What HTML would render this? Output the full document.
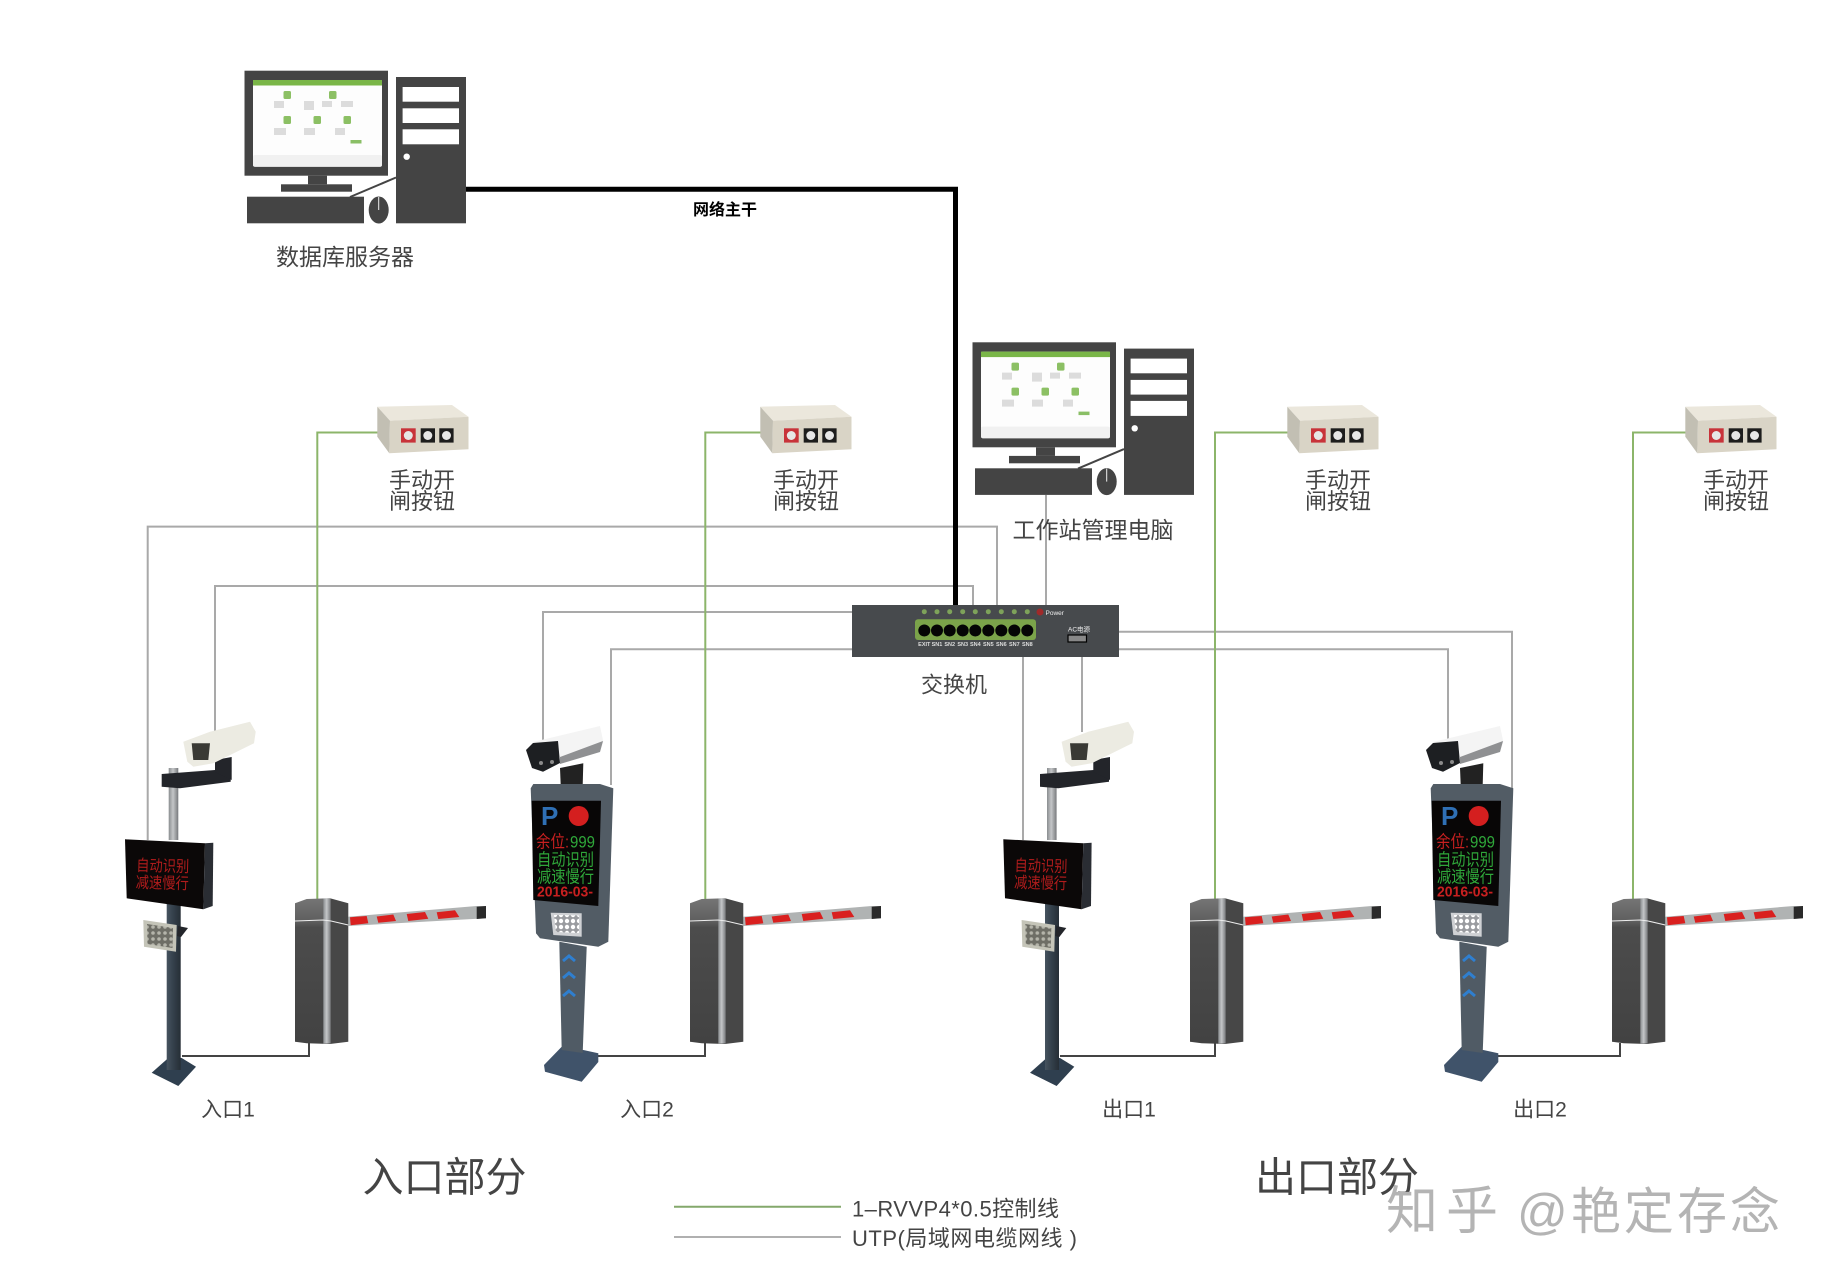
<!DOCTYPE html>
<html lang="zh">
<head>
<meta charset="utf-8">
<title>停车场系统拓扑图</title>
<style>
html,body{margin:0;padding:0;background:#fff}
svg{display:block}
text{font-family:"Liberation Sans","Noto Sans CJK SC",sans-serif;fill:#444}
.cn{font-size:23px;text-anchor:middle;dominant-baseline:central}
.led{font-size:17px;dominant-baseline:central}
.ledA{font-size:16px;dominant-baseline:central;fill:#b01c1c}
</style>
</head>
<body>
<svg xmlns="http://www.w3.org/2000/svg" width="1826" height="1282" viewBox="0 0 1826 1282">
<defs>
<linearGradient id="silver" x1="0" x2="1" y1="0" y2="0"><stop offset="0" stop-color="#8a8d90"/><stop offset=".45" stop-color="#c4c6c8"/><stop offset="1" stop-color="#77797c"/></linearGradient>
<linearGradient id="post" x1="0" x2="1" y1="0" y2="0"><stop offset="0" stop-color="#46535f"/><stop offset=".5" stop-color="#333f4a"/><stop offset="1" stop-color="#262e36"/></linearGradient>
<linearGradient id="cab" x1="0" x2="0" y1="0" y2="1"><stop offset="0" stop-color="#757575"/><stop offset=".16" stop-color="#5e5e5e"/><stop offset=".2" stop-color="#4c4c4c"/><stop offset="1" stop-color="#424242"/></linearGradient>
<pattern id="dotsA" width="6" height="6" patternUnits="userSpaceOnUse"><rect width="6" height="6" fill="#6e6e66"/><circle cx="3" cy="3" r="1.8" fill="#b4b4aa"/></pattern>
<pattern id="dotsB" width="6" height="6" patternUnits="userSpaceOnUse"><rect width="6" height="6" fill="#9a9ca0"/><circle cx="3" cy="3" r="2.2" fill="#fff"/></pattern>

<g id="pc">
  <rect x="244.5" y="70.7" width="143.5" height="105" fill="#444"/>
  <rect x="253" y="80" width="129" height="86.7" rx="2" fill="#fdfdfd"/>
  <rect x="253" y="155" width="129" height="11.7" rx="2" fill="#f1f1f1"/>
  <rect x="253" y="80" width="129" height="5.5" fill="#7ab648"/>
  <g fill="#8cc064">
    <rect x="283.5" y="91" width="7.5" height="8" rx="1.5"/>
    <rect x="329" y="91" width="7.5" height="8" rx="1.5"/>
    <rect x="283.5" y="116" width="7.5" height="8" rx="1.5"/>
    <rect x="313.5" y="116" width="7.5" height="8" rx="1.5"/>
    <rect x="343.5" y="116" width="7.5" height="8" rx="1.5"/>
    <rect x="350.5" y="140" width="11" height="3.5" fill="#8abf66"/>
  </g>
  <g fill="#dcdcdc">
    <rect x="274" y="101" width="10" height="7"/><rect x="304" y="101" width="10" height="9"/>
    <rect x="322" y="101" width="10" height="6"/><rect x="341" y="101" width="12" height="6"/>
    <rect x="274" y="128" width="12" height="7"/><rect x="304" y="128" width="11" height="7"/>
    <rect x="335" y="128" width="10" height="7"/>
  </g>
  <rect x="308" y="175.7" width="19" height="8.6" fill="#444"/>
  <rect x="281" y="184.3" width="71" height="7.4" fill="#444"/>
  <rect x="247" y="196.7" width="117" height="26.6" fill="#444"/>
  <path d="M396 177.5 L350 197" stroke="#444" stroke-width="2" fill="none"/>
  <ellipse cx="378.7" cy="210" rx="10" ry="13.5" fill="#444"/>
  <path d="M378.7 197v13" stroke="#eee" stroke-width="1"/>
  <rect x="396" y="77" width="70" height="146.3" fill="#444"/>
  <rect x="402.6" y="87" width="56.4" height="14.7" fill="#fff"/>
  <rect x="402.6" y="108.3" width="56.4" height="14.7" fill="#fff"/>
  <rect x="402.6" y="129.3" width="56.4" height="15" fill="#fff"/>
  <circle cx="406.7" cy="156.7" r="3.2" fill="#fff"/>
</g>

<g id="btn">
  <polygon points="377.3,406.7 452,405 468.5,416.7 390,420.7" fill="#ebe7dc"/>
  <polygon points="377.3,406.7 390,420.7 389.3,453.3 377.3,436.7" fill="#c2bfb3"/>
  <polygon points="390,420.7 468.5,416.7 468.5,449.3 389.3,453.3" fill="#d9d4c6"/>
  <rect x="401" y="428.3" width="14.7" height="14.3" fill="#c8333a"/>
  <rect x="420.7" y="428.3" width="14.3" height="14.3" fill="#1d1d1d"/>
  <rect x="439.3" y="428.3" width="14.3" height="14.3" fill="#1d1d1d"/>
  <circle cx="408.3" cy="435.5" r="4.5" fill="#e6e6e6"/>
  <circle cx="427.8" cy="435.5" r="4.5" fill="#e6e6e6"/>
  <circle cx="446.5" cy="435.5" r="4.5" fill="#e6e6e6"/>
</g>

<g id="bar">
  <polygon points="348.3,916.7 476.7,906 486,906 486,918.3 348.3,926" fill="#b0b3b3"/>
  <polygon points="350,917.3 366.7,916 368.3,923.3 350.7,925.3" fill="#d9201f"/>
  <polygon points="376.7,916.5 393.3,914.5 396,921 378.3,922.7" fill="#d9201f"/>
  <polygon points="406.7,914 425,912 428.3,918.8 408.3,921" fill="#d9201f"/>
  <polygon points="436.7,912.2 455,910.2 459.3,917 438.3,919" fill="#d9201f"/>
  <polygon points="476.7,906.7 486,906 486,918.3 476.7,919" fill="#2a2a2a"/>
  <polygon points="295,903.3 306.7,899 330,898.3 330,1044 306.7,1043.3 295,1041.7" fill="url(#cab)"/>
  <polygon points="330,898.3 348.3,903.3 348.3,1041.7 330,1044" fill="#474747"/>
  <rect x="323.3" y="898.5" width="7.4" height="145" fill="url(#silver)"/>
  <path d="M295 921 L323 920 L331 921 L348.3 925" stroke="#eee" stroke-width="1" fill="none"/>
</g>

<g id="poleA">
  <polygon points="151.7,1072.7 168.3,1058 181.7,1058 196,1066.7 178.3,1086" fill="#2f3f4f"/>
  <rect x="166.7" y="903" width="14" height="167" fill="url(#post)"/>
  <rect x="168.7" y="768" width="9.6" height="72" fill="url(#silver)"/>
  <polygon points="161.7,774 215,770 230.7,778.3 230.7,781.7 180,788.3 161.7,786.7" fill="#23252a"/>
  <polygon points="215,760 231.7,757 231.7,780 215,772" fill="#23252a"/>
  <polygon points="183.3,741.7 210,731.7 250,721.7 255.7,731.7 254,743.3 213.3,763.3 193.3,766.7 187.3,761.7" fill="#ecebe2"/>
  <polygon points="191.7,743.3 210,743.3 208.3,760 193.3,760" fill="#3a3a35"/>
  <polygon points="125,839.3 205,843.3 203.3,909.3 126.7,898.3" fill="#0b0808"/>
  <polygon points="205,843.3 213.3,842.7 212.7,906 203.3,909.3" fill="#2a2d33"/>
  <polygon points="143.3,920 176.7,925 176,951.7 144,946.7" fill="#c4c4b8"/>
  <polygon points="147,924 173,928 172.5,948 147.5,944" fill="url(#dotsA)"/>
  <polygon points="178,926 188,928 181,937 177,936" fill="#23252a"/>
</g>

<g id="poleB">
  <polygon points="544,1065 561.7,1046.7 583.3,1050 598.3,1053.3 598.3,1062 581.7,1081.7 545,1071.7" fill="#40536a"/>
  <polygon points="559.3,941.7 586.7,946.7 582.7,1053 561.7,1050" fill="#505b65"/>
  <path d="M563 961l6-5 6 5M563 978l6-5 6 5M563 996l6-5 6 5" stroke="#2f7fd0" stroke-width="3" fill="none"/>
  <polygon points="560,768 583.3,763.3 582.7,785 560.7,785" fill="#222"/>
  <polygon points="533,742 600,726 603.3,741.7 600,751.7 560,757" fill="#f4f4f4"/>
  <polygon points="560,757 603,741 600,752 560,764" fill="#8f9092"/>
  <polygon points="526,750 533,743 558,741 560,763 543,771.7 532,768" fill="#1d1f22"/>
  <circle cx="541" cy="763" r="2" fill="#8a8a8a"/><circle cx="552" cy="762" r="2" fill="#8a8a8a"/>
  <polygon points="530.7,788.3 533.3,784 600,784 613.3,788.3 608.3,941.7 598.3,946.7 540,938.3 536,933.3" fill="#525c65"/>
  <polygon points="531.7,800.7 601,800.7 598.3,906 533.3,900" fill="#080606"/>
  <circle cx="578.7" cy="816" r="10" fill="#d41f1f"/>
  <polygon points="550.7,912.7 581.7,913.3 581.7,936.7 553.3,935" fill="#cfd1d4"/>
  <polygon points="554,915 579,915.5 579,933 556,932" fill="url(#dotsB)"/>
</g>
</defs>

<rect width="1826" height="1282" fill="#fff"/>

<!-- UTP lines -->
<g fill="none" stroke="#a9a9a9" stroke-width="2">
  <path d="M147.7 840V526.6H997V606"/>
  <path d="M215 731V586H973V606"/>
  <path d="M543 740V612H853"/>
  <path d="M611 785V649.3H853"/>
  <path d="M1046 495V606"/>
  <path d="M1118 631.7H1512V790"/>
  <path d="M1118 649.3H1448V745"/>
  <path d="M1023 656V840"/>
  <path d="M1082 656V732"/>
</g>
<!-- control lines -->
<g fill="none" stroke="#8cb56a" stroke-width="2">
  <path d="M377.5 432.5H317.3V899"/>
  <path d="M761 432.5H705.3V899"/>
  <path d="M1288 432.5H1215V899"/>
  <path d="M1686 432.5H1633V899"/>
</g>
<!-- backbone -->
<path d="M466 189.3H955.5V606" fill="none" stroke="#000" stroke-width="5"/>
<!-- ground links -->
<g fill="none" stroke="#444" stroke-width="2">
  <path d="M182 1056H309V1043"/>
  <path d="M598 1056H705V1043"/>
  <path d="M1060 1056H1215V1043"/>
  <path d="M1497 1056H1620V1043"/>
</g>

<!-- computers -->
<use href="#pc"/>
<use href="#pc" transform="translate(728,271.6)"/>
<text class="cn" x="345" y="257">数据库服务器</text>
<text class="cn" x="1093" y="530">工作站管理电脑</text>
<text x="693" y="215" font-size="16" font-weight="700" style="fill:#000">网络主干</text>

<!-- button boxes -->
<use href="#btn"/>
<use href="#btn" transform="translate(383,0)"/>
<use href="#btn" transform="translate(910,0)"/>
<use href="#btn" transform="translate(1308,0)"/>
<g>
  <text class="cn" style="font-size:22px" x="422" y="480.5">手动开</text>
  <text class="cn" style="font-size:22px" x="422" y="501.5">闸按钮</text>
  <text class="cn" style="font-size:22px" x="806" y="480.5">手动开</text>
  <text class="cn" style="font-size:22px" x="806" y="501.5">闸按钮</text>
  <text class="cn" style="font-size:22px" x="1338" y="480.5">手动开</text>
  <text class="cn" style="font-size:22px" x="1338" y="501.5">闸按钮</text>
  <text class="cn" style="font-size:22px" x="1736" y="480.5">手动开</text>
  <text class="cn" style="font-size:22px" x="1736" y="501.5">闸按钮</text>
</g>

<!-- switch -->
<rect x="852" y="605" width="267" height="52" fill="#474a4d"/>
<rect x="915" y="619.3" width="121" height="20.7" rx="3" fill="#7ba34a"/>
<g fill="#7ea35a">
  <circle cx="924.3" cy="611.7" r="2.5"/><circle cx="937" cy="611.7" r="2.5"/><circle cx="949.7" cy="611.7" r="2.5"/>
  <circle cx="962.7" cy="611.7" r="2.5"/><circle cx="975.3" cy="611.7" r="2.5"/><circle cx="988.3" cy="611.7" r="2.5"/>
  <circle cx="1001.3" cy="611.7" r="2.5"/><circle cx="1014.3" cy="611.7" r="2.5"/><circle cx="1027.3" cy="611.7" r="2.5"/>
</g>
<g fill="#050505">
  <circle cx="924.3" cy="630.5" r="6"/><circle cx="937" cy="630.5" r="6"/><circle cx="949.7" cy="630.5" r="6"/>
  <circle cx="962.7" cy="630.5" r="6"/><circle cx="975.3" cy="630.5" r="6"/><circle cx="988.3" cy="630.5" r="6"/>
  <circle cx="1001.3" cy="630.5" r="6"/><circle cx="1014.3" cy="630.5" r="6"/><circle cx="1027.3" cy="630.5" r="6"/>
</g>
<circle cx="1040" cy="612" r="3.5" fill="#a02a2a"/>
<text x="1045.5" y="615" font-size="6.5" style="fill:#eee">Power</text>
<g font-size="5.5" font-weight="700" text-anchor="middle">
  <text x="924.3" y="646" style="fill:#ddd">EXIT</text><text x="937" y="646" style="fill:#ddd">SN1</text>
  <text x="949.7" y="646" style="fill:#ddd">SN2</text><text x="962.7" y="646" style="fill:#ddd">SN3</text>
  <text x="975.3" y="646" style="fill:#ddd">SN4</text><text x="988.3" y="646" style="fill:#ddd">SN5</text>
  <text x="1001.3" y="646" style="fill:#ddd">SN6</text><text x="1014.3" y="646" style="fill:#ddd">SN7</text>
  <text x="1027.3" y="646" style="fill:#ddd">SN8</text>
</g>
<text x="1068" y="631.5" font-size="6.5" style="fill:#eee">AC电源</text>
<rect x="1068" y="635" width="18.5" height="7" fill="#888" stroke="#000" stroke-width="1.2"/>
<text class="cn" style="font-size:22px" x="954" y="685">交换机</text>

<!-- lanes -->
<use href="#bar"/>
<use href="#bar" transform="translate(395,0)"/>
<use href="#bar" transform="translate(895,0)"/>
<use href="#bar" transform="translate(1317,0)"/>

<use href="#poleA"/>
<use href="#poleA" transform="translate(878.3,0)"/>
<use href="#poleB"/>
<use href="#poleB" transform="translate(900,0)"/>

<!-- LED text, pole A -->
<g transform="rotate(1.5 165 875)">
  <text class="ledA" x="136" y="867" textLength="53" lengthAdjust="spacingAndGlyphs">自动识别</text>
  <text class="ledA" x="136" y="884" textLength="53" lengthAdjust="spacingAndGlyphs">减速慢行</text>
</g>
<g transform="translate(878.3,0) rotate(1.5 165 875)">
  <text class="ledA" x="136" y="867" textLength="53" lengthAdjust="spacingAndGlyphs">自动识别</text>
  <text class="ledA" x="136" y="884" textLength="53" lengthAdjust="spacingAndGlyphs">减速慢行</text>
</g>
<!-- LED text, pole B -->
<g>
  <text x="541" y="825" font-size="26" font-weight="700" style="fill:#2f6fb4">P</text>
  <text class="led" x="536" y="842" textLength="33" lengthAdjust="spacingAndGlyphs" style="fill:#c82020">余位:</text><text class="led" x="570" y="842" textLength="25" lengthAdjust="spacingAndGlyphs" style="fill:#2fa83a">999</text>
  <text class="led" x="537" y="860" textLength="57" lengthAdjust="spacingAndGlyphs" style="fill:#2fa83a">自动识别</text>
  <text class="led" x="537" y="877" textLength="57" lengthAdjust="spacingAndGlyphs" style="fill:#2fa83a">减速慢行</text>
  <text class="led" x="537" y="892" textLength="56" lengthAdjust="spacingAndGlyphs" style="font-size:15px;font-weight:700;fill:#c82020">2016-03-</text>
</g>
<g transform="translate(900,0)">
  <text x="541" y="825" font-size="26" font-weight="700" style="fill:#2f6fb4">P</text>
  <text class="led" x="536" y="842" textLength="33" lengthAdjust="spacingAndGlyphs" style="fill:#c82020">余位:</text><text class="led" x="570" y="842" textLength="25" lengthAdjust="spacingAndGlyphs" style="fill:#2fa83a">999</text>
  <text class="led" x="537" y="860" textLength="57" lengthAdjust="spacingAndGlyphs" style="fill:#2fa83a">自动识别</text>
  <text class="led" x="537" y="877" textLength="57" lengthAdjust="spacingAndGlyphs" style="fill:#2fa83a">减速慢行</text>
  <text class="led" x="537" y="892" textLength="56" lengthAdjust="spacingAndGlyphs" style="font-size:15px;font-weight:700;fill:#c82020">2016-03-</text>
</g>

<!-- lane labels -->
<text class="cn" style="font-size:21px" x="228" y="1110">入口1</text>
<text class="cn" style="font-size:21px" x="647" y="1110">入口2</text>
<text class="cn" style="font-size:21px" x="1129" y="1110">出口1</text>
<text class="cn" style="font-size:21px" x="1540" y="1110">出口2</text>
<text class="cn" style="font-size:41px" x="444.5" y="1177.5">入口部分</text>
<text class="cn" style="font-size:41px" x="1337" y="1177.5">出口部分</text>

<!-- legend -->
<path d="M674 1206.7H841" stroke="#84a86c" stroke-width="2"/>
<path d="M674 1237H841" stroke="#b0b0b0" stroke-width="2"/>
<text x="852" y="1216.5" font-size="22" textLength="207">1–RVVP4*0.5控制线</text>
<text x="852" y="1246" font-size="22" textLength="225">UTP(局域网电缆网线 )</text>

<!-- watermark -->
<g style="font-weight:400">
  <text x="1386" y="1229" style="font-size:52px;fill:#b4b4b4" textLength="112">知乎</text>
  <text x="1517" y="1229" style="font-size:50px;fill:#b4b4b4" textLength="263">@艳定存念</text>
</g>
</svg>
</body>
</html>
